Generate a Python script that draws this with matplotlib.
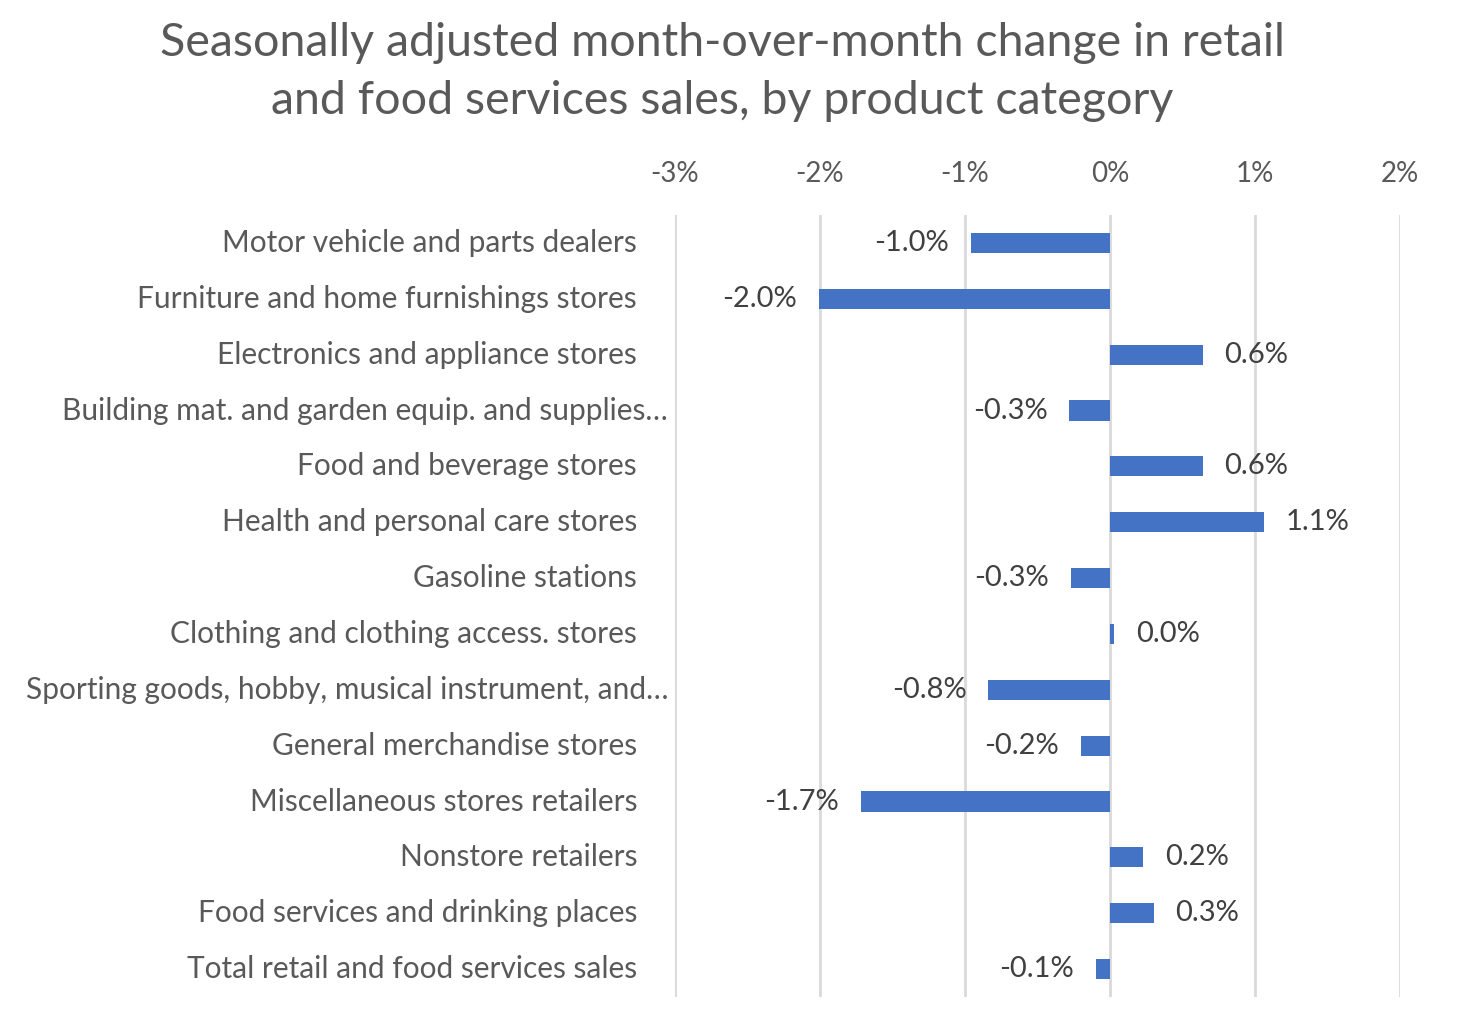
import matplotlib
matplotlib.use("Agg")
import matplotlib.pyplot as plt
import matplotlib.transforms as mtransforms

plt.rcParams['font.family'] = ['Lato', 'DejaVu Sans']

categories = [
    "Motor vehicle and parts dealers",
    "Furniture and home furnishings stores",
    "Electronics and appliance stores",
    "Building mat. and garden equip. and supplies\u2026",
    "Food and beverage stores",
    "Health and personal care stores",
    "Gasoline stations",
    "Clothing and clothing access. stores",
    "Sporting goods, hobby, musical instrument, and\u2026",
    "General merchandise stores",
    "Miscellaneous stores retailers",
    "Nonstore retailers",
    "Food services and drinking places",
    "Total retail and food services sales",
]
# month-over-month change, percent
changes = [-0.96, -2.01, 0.64, -0.28, 0.64, 1.06, -0.27, 0.03,
           -0.84, -0.20, -1.72, 0.23, 0.30, -0.10]
truncated = [False, False, False, True, False, False, False, False,
             True, False, False, False, False, False]
xticks = [-3, -2, -1, 0, 1, 2]

bar_col = "#4472C4"
grey = "#595959"

fig = plt.figure(figsize=(14.58, 10.28), dpi=100)
ax = fig.add_axes([675/1458, 1 - 997/1028, 725/1458, 782/1028])

ypos = list(range(len(categories)))
ax.barh(ypos, changes, height=0.36, color=bar_col, zorder=3)

ax.set_xlim(-3, 2)
ax.set_ylim(len(categories) - 0.5, -0.5)
ax.set_xticks(xticks)
ax.set_xticklabels([f"{t}%" for t in xticks], fontsize=20, color=grey)
ax.xaxis.tick_top()
ax.tick_params(axis='x', length=0, pad=20)
ax.set_yticks([])
ax.grid(axis='x', color="#D9D9D9", linewidth=2, zorder=0)
for s in ax.spines.values():
    s.set_visible(False)

# value labels
for y, v in zip(ypos, changes):
    off = 0.15 if v >= 0 else -0.15
    ax.text(v + off, y, f"{v:.1f}%", ha='left' if v >= 0 else 'right',
            va='center', fontsize=21, color="#404040")

# category labels
trans = mtransforms.blended_transform_factory(fig.transFigure, ax.transData)
for y, name, tr in zip(ypos, categories, truncated):
    xr = 668/1458 if tr else 637/1458
    ax.text(xr, y, name, transform=trans, ha='right', va='center',
            fontsize=21.5, color=grey)

fig.text(722/1458, 1 - 72/1028,
         "Seasonally adjusted month-over-month change in retail\nand food services sales, by product category",
         ha='center', va='center', fontsize=33.5, color=grey, linespacing=1.5)

fig.savefig("out.png", dpi=100)
